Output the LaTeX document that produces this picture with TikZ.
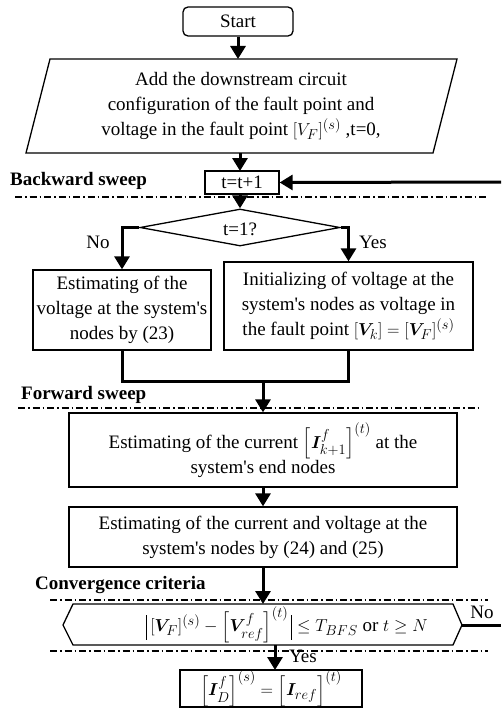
\documentclass[tikz,border=0pt]{standalone}
\usepackage{amsmath,bm}
\usepackage{fontspec}
\setmainfont{Liberation Serif}
\usetikzlibrary{shapes.geometric,arrows.meta}
\newcommand{\apo}{\textquotesingle}
\newcommand{\bigbar}{\vrule width 1.1pt height 17pt depth 8pt}
\tikzset{
  box/.style={draw, line width=1.3pt, inner sep=0pt, align=center},
  ghost/.style={inner sep=0pt, align=center},
  flow/.style={line width=3pt, -{Triangle[width=15pt,length=13pt]}},
  thick line/.style={line width=3pt},
  sep line/.style={line width=1.3pt, dash pattern=on 7pt off 3pt on 1.5pt off 3pt},
  lab/.style={font=\fontsize{19}{25}\selectfont\bfseries, anchor=base west, inner sep=0pt},
  txt/.style={inner sep=0pt},
}
\begin{document}
\begin{tikzpicture}[x=1pt,y=-1pt,font=\fontsize{19}{25}\selectfont]
\useasboundingbox (0,0) rectangle (501,709);

% Start
\node[box, rounded corners=5pt, minimum width=110pt, minimum height=29pt] (start) at (238,21.5) {Start};

% Input parallelogram
\coordinate (p1) at (50,59);
\coordinate (p2) at (457,59);
\coordinate (p3) at (433,153);
\coordinate (p4) at (26,153);
\draw[line width=1.3pt] (p1) -- (p2) -- (p3) -- (p4) -- cycle;
\node[ghost, minimum width=300pt, minimum height=94pt] (inp) at (241,106)
  {Add the downstream circuit\\configuration of the fault point and\\voltage in the fault point $[V_{F}]^{(s)}$ ,t=0,};

% t=t+1
\node[box, minimum width=74pt, minimum height=23pt] (tt) at (242,182.5) {t=t+1};
\coordinate (loopin) at (501,182);

% decision
\node[draw, line width=1.3pt, diamond, inner sep=0pt, minimum width=200pt, minimum height=37pt] (dia) at (240,227.5) {};
\node[txt] (diatxt) at (240,229) {t=1?};

% branch boxes
\node[box, minimum width=178pt, minimum height=80pt] (lbox) at (122,310)
  {Estimating of the\\voltage at the system\apo s\\nodes by (23)};
\node[box, minimum width=249pt, minimum height=88pt] (rbox) at (348.5,306)
  {Initializing of voltage at the\\system\apo s nodes as voltage in\\the fault point $[\bm{V}_{k}]=[\bm{V}_{F}]^{(s)}$};
\node[txt] (no1) at (98,242) {No};
\node[txt] (yes1) at (373,242) {Yes};

\coordinate (merge) at (263,381);

% forward boxes
\node[box, minimum width=388pt, minimum height=74pt] (fwd1) at (263,450)
  {Estimating of the current $\left[\bm{I}^{f}_{k+1}\right]^{(t)}$ at the\\system\apo s end nodes};
\node[box, minimum width=388pt, minimum height=60pt] (fwd2) at (263,537)
  {Estimating of the current and voltage at the\\system\apo s nodes by (24) and (25)};

% convergence hexagon
\coordinate (h1) at (73,604);
\coordinate (h2) at (453,604);
\coordinate (h3) at (462,625);
\coordinate (h4) at (453,645);
\coordinate (h5) at (73,645);
\coordinate (h6) at (63,625);
\draw[line width=1.3pt] (h1) -- (h2) -- (h3) -- (h4) -- (h5) -- (h6) -- cycle;
\node[ghost, minimum width=399pt, minimum height=41pt] (conv) at (262.5,624.5) {};
\node[txt] (convtxt) at (287,625)
  {$\bigbar\,[\bm{V}_{F}]^{(s)}-\Bigl[\bm{V}^{f}_{ref}\Bigr]^{(t)}\,\bigbar\le T_{BFS}$ or $t\ge N$};
\coordinate (loopout) at (501,625);
\node[txt] (no2) at (482,612) {No};

\coordinate (ytop) at (275,645);
\coordinate (ybot) at (275,670);
\node[txt] (yes2) at (303,656) {Yes};

% final box
\node[box, minimum width=182pt, minimum height=37pt] (fin) at (271,688.5)
  {$\Bigl[\bm{I}^{f}_{D}\Bigr]^{(s)}=\Bigl[\bm{I}_{ref}\Bigr]^{(t)}$};

% section labels and separators
\node[lab] (bw) at (10,185) {Backward sweep};
\draw[sep line] (15,197) -- (487,197);
\node[lab] (fw) at (21,399) {Forward sweep};
\draw[sep line] (18,408) -- (478,408);
\node[lab] (cv) at (35,589) {Convergence criteria};
\draw[sep line] (50,600) -- (488,600);
\draw[sep line] (50,651) -- (488,651);

% connectors
\draw[flow] (start.south) -- (start.south |- p1);
\draw[flow] (240,153) -- (240,171);
\draw[flow] (loopin) -- (tt.east);
\draw[flow] (240,194) -- (dia.north);
\draw[flow] (dia.west) -| (lbox.north);
\draw[flow] (dia.east) -| (rbox.north);
\draw[thick line] (lbox.south) |- (merge) -| (rbox.south);
\draw[flow] (merge) -- (fwd1.north);
\draw[flow] (fwd1.south) -- (fwd2.north);
\draw[flow] (fwd2.south) -- (fwd2.south |- h1);
\draw[thick line] (h3) -- (loopout);
\draw[flow] (ytop) -- (ybot);
\end{tikzpicture}
\end{document}
